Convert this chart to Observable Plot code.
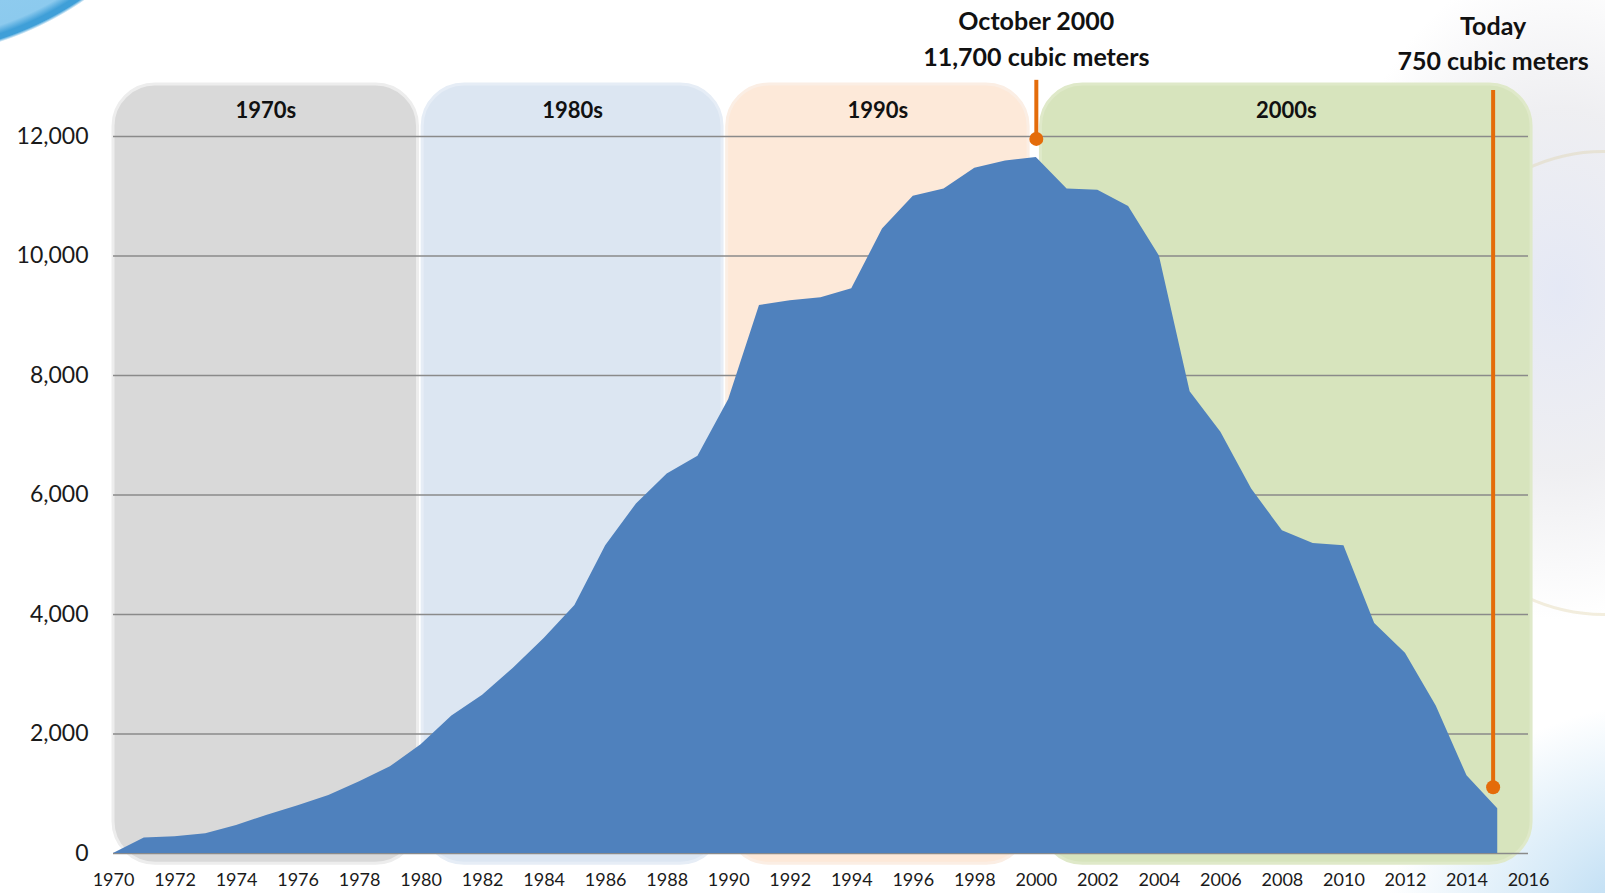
<!DOCTYPE html>
<html>
<head>
<meta charset="utf-8">
<script src="https://cdn.jsdelivr.net/npm/d3@7"></script>
<script src="https://cdn.jsdelivr.net/npm/@observablehq/plot@0.6"></script>
<style>
  html, body { margin: 0; padding: 0; background: #fff; width: 1605px; height: 893px; overflow: hidden; }
  #wrap { position: relative; width: 1605px; height: 893px; overflow: hidden; }
  .deco { position: absolute; pointer-events: none; }
  #chart { position: absolute; left: 0; top: 0; }
</style>
</head>
<body>
<div id="wrap">
  <div class="deco" style="left:1330px; top:-40px; width:460px; height:660px; border-radius:50%; background: radial-gradient(ellipse closest-side, rgba(226,230,244,0.9) 0%, rgba(232,232,236,0.7) 55%, rgba(255,255,255,0) 100%);"></div>
  <div class="deco" style="left:1400px; top:150px; width:400px; height:460px; border-radius:50%; border: 3px solid rgba(222,206,160,0.35);"></div>
  <div class="deco" style="left:-425px; top:-592px; width:650px; height:650px; border-radius:50%; background: radial-gradient(circle closest-side, #a6d6f1 0%, #8ccaee 95%, #3f9fd8 97.5%, #3f9fd8 99%, rgba(255,255,255,0) 100%);"></div>
  <div class="deco" style="left:1380px; top:700px; width:420px; height:320px; border-radius:50%; background: radial-gradient(ellipse at 70% 75%, #a9d2ef 0%, #d6eaf8 35%, rgba(255,255,255,0) 70%);"></div>
  <div id="chart"></div>
</div>
<script>
// ---- data ----
const years = [1970,1971,1972,1973,1974,1975,1976,1977,1978,1979,
               1980,1981,1982,1983,1984,1985,1986,1987,1988,1989,
               1990,1991,1992,1993,1994,1995,1996,1997,1998,1999,
               2000,2001,2002,2003,2004,2005,2006,2007,2008,2009,
               2010,2011,2012,2013,2014,2015];
const volume = [0,260,280,330,470,640,800,970,1200,1450,
                1820,2300,2650,3100,3600,4150,5150,5850,6350,6650,
                7600,9170,9250,9300,9450,10450,11000,11120,11470,11590,
                11650,11120,11100,10830,10000,7730,7050,6100,5400,5190,
                5150,3850,3350,2470,1300,750];

const decades = ["1970s","1980s","1990s","2000s"];
const decadeStart = [1970, 1980.05, 1989.95, 2000.15];
const decadeEnd = [1979.9, 1989.8, 1999.75, 2016.1];
const decadeColors = ["#d9d9d9","#dce6f2","#fde9d9","#d7e4bd"];
const decadeBorder = ["#ededed","#e6edf6","#fbeee4","#dfe9c9"];
const panelTop = 12870;
const panelBottom = -170;

const yTicks = [0,2000,4000,6000,8000,10000,12000];
const xTicks = d3.range(1970, 2017, 2);

const annoYear = [2000, 2014.85];
const annoTitle = ["October 2000", "Today"];
const annoText = ["11,700 cubic meters", "750 cubic meters"];
const annoDot = [11960, 1110];
const annoTop = [12940, 12770];

// ---- tables built from arrays ----
const series = years.map((y, i) => ({year: y, value: volume[i]}));
const panels = decades.map((d, i) => ({label: d, x1: decadeStart[i], x2: decadeEnd[i], fill: decadeColors[i], stroke: decadeBorder[i], mid: (decadeStart[i] + decadeEnd[i]) / 2}));
const annos = annoYear.map((x, i) => ({x, title: annoTitle[i], text: annoText[i], dot: annoDot[i], top: annoTop[i]}));

const orange = "#e46c0a";

const chart = Plot.plot({
  width: 1605,
  height: 893,
  marginLeft: 113,
  marginRight: 77,
  marginTop: 136,
  marginBottom: 40,
  style: {fontFamily: "Lato, 'Open Sans', sans-serif", color: "#1a1a1a", background: "transparent", overflow: "visible"},
  x: {domain: [1970, 2016]},
  y: {domain: [0, 12000]},
  marks: [
    Plot.rect(panels, {x1: "x1", x2: "x2", y1: panelBottom, y2: panelTop, fill: "fill", stroke: "stroke", strokeWidth: 3, rx: 42}),
    Plot.text(panels, {x: "mid", y: 12000, text: "label", dy: -26, fontSize: 22, fontWeight: "bold", fill: "#111"}),
    Plot.ruleY(yTicks, {x1: 1970, x2: 2016, stroke: "#8a8a8a", strokeWidth: 1.5}),
    Plot.areaY(series, {x: "year", y: "value", fill: "#4f81bd"}),
    Plot.ruleX(annos, {x: "x", y1: "dot", y2: "top", stroke: orange, strokeWidth: 4}),
    Plot.dot(annos, {x: "x", y: "dot", r: 7, fill: orange}),
    Plot.text([annos[0]], {x: "x", y: 12000, text: "title", dy: -115, fontSize: 25, fontWeight: "bold", fill: "#111"}),
    Plot.text([annos[0]], {x: "x", y: 12000, text: "text", dy: -79, fontSize: 25, fontWeight: "bold", fill: "#111"}),
    Plot.text([annos[1]], {x: "x", y: 12000, text: "title", dy: -110, fontSize: 25, fontWeight: "bold", fill: "#111"}),
    Plot.text([annos[1]], {x: "x", y: 12000, text: "text", dy: -75, fontSize: 25, fontWeight: "bold", fill: "#111"}),
    Plot.axisY({ticks: yTicks, tickFormat: d3.format(","), tickSize: 0, tickPadding: 25, fontSize: 23, label: null}),
    Plot.axisX({ticks: xTicks, tickFormat: d => String(d), tickSize: 0, tickPadding: 20, fontSize: 18, label: null})
  ]
});
document.getElementById("chart").appendChild(chart);
</script>
</body>
</html>
